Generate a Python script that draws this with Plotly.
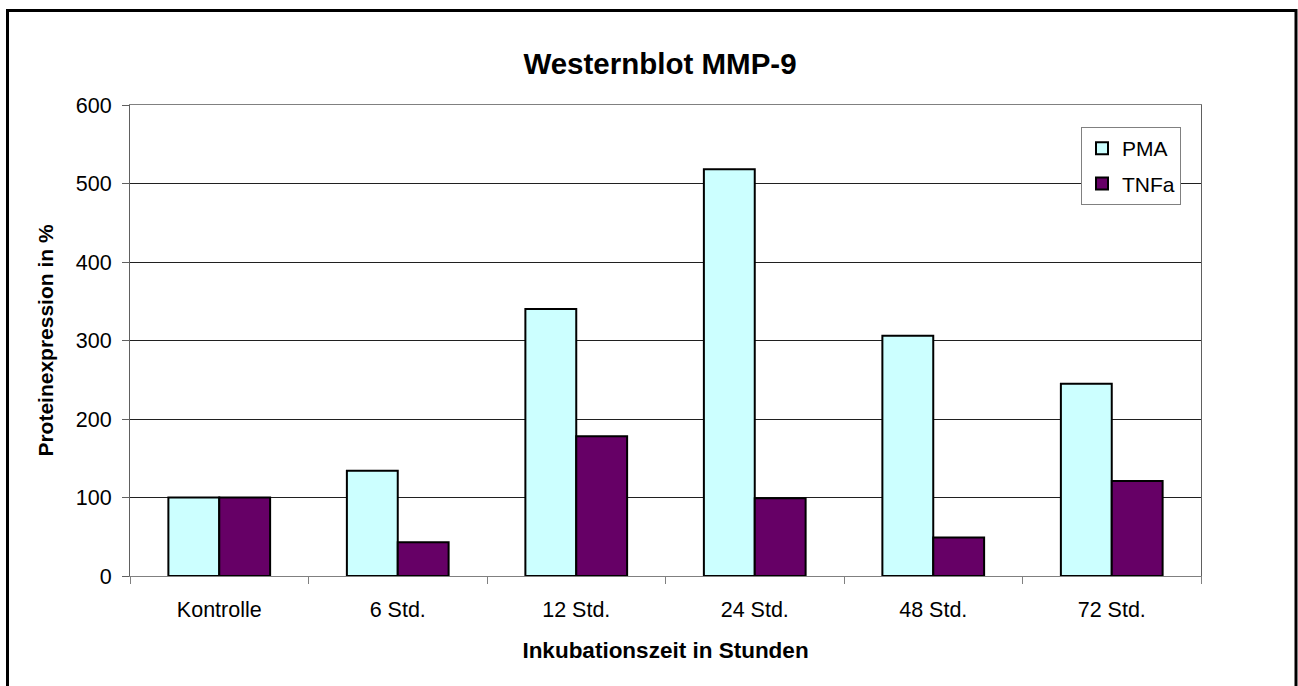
import plotly.graph_objects as go

categories = ["Kontrolle", "6 Std.", "12 Std.", "24 Std.", "48 Std.", "72 Std."]
pma = [100, 134, 340, 518, 306, 245]
tnfa = [100, 43, 178, 99, 49, 121]
y_ticks = [0, 100, 200, 300, 400, 500, 600]

FONT = "Arial, Liberation Sans, sans-serif"

fig = go.Figure()
fig.add_trace(go.Bar(name="PMA", x=categories, y=pma, legendgroup="pma",
                     marker=dict(color="#CCFFFF", line=dict(color="black", width=2))))
fig.add_trace(go.Bar(name="TNFa", x=categories, y=tnfa, legendgroup="tnfa",
                     marker=dict(color="#660066", line=dict(color="black", width=2))))

fig.update_layout(
    width=1298, height=686,
    margin=dict(l=130, r=97, t=105, b=110),
    paper_bgcolor="white", plot_bgcolor="white",
    barmode="group", bargap=0.43, bargroupgap=0,
    font=dict(family=FONT, color="black", size=21),
    title=dict(text="<b>Westernblot MMP-9</b>", x=660 / 1298, xanchor="center",
               y=1 - 64 / 686, yanchor="middle", font=dict(size=29.5, family=FONT, color="black")),
    legend=dict(x=(1081 - 130) / 1071, y=(576 - 127) / 471, xanchor="left", yanchor="top",
                bgcolor="white", bordercolor="#808080", borderwidth=1,
                font=dict(size=21, family=FONT), itemwidth=30, tracegroupgap=5),
    showlegend=True,
)

fig.update_xaxes(
    showline=True, linecolor="#808080", linewidth=1, mirror=True,
    ticks="outside", tickson="boundaries", ticklen=7, tickcolor="#808080",
    tickfont=dict(size=21.5, family=FONT), ticklabelstandoff=14,
    title=dict(text="<b>Inkubationszeit in Stunden</b>", font=dict(size=22.5, family=FONT), standoff=21),
    showgrid=False,
)
fig.update_yaxes(
    range=[0, 600], tickvals=y_ticks,
    showline=True, linecolor="#606060", linewidth=1, mirror=True,
    ticks="outside", ticklen=7, tickcolor="#606060",
    tickfont=dict(size=21.5, family=FONT), ticklabelstandoff=6,
    showgrid=True, gridcolor="#202020", gridwidth=1,
    zeroline=False,
    title=dict(text="<b>Proteinexpression in %</b>", font=dict(size=21, family=FONT), standoff=16),
)

# outer chart border
fig.add_shape(type="rect", xref="paper", yref="paper",
              x0=(7.5 - 130) / 1071, x1=(1296 - 130) / 1071,
              y0=-0.6, y1=(576 - 10.5) / 471,
              line=dict(color="black", width=3), layer="below")

fig.write_html("out.html", config={"displayModeBar": False},
               post_script="document.body.style.margin='0';document.body.style.overflow='hidden';")
